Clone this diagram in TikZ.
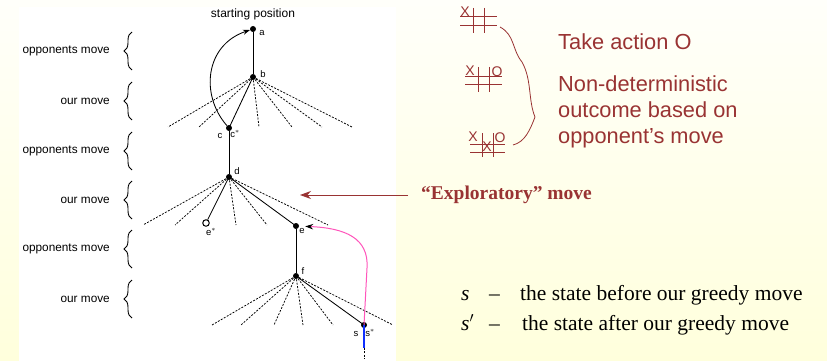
\documentclass[tikz,border=0pt]{standalone}
\usepackage{fontspec}
\setmainfont{Liberation Serif}
\newfontfamily\arialf{Liberation Sans}
\usetikzlibrary{decorations.pathreplacing,arrows.meta}
\definecolor{dred}{HTML}{993333}
\definecolor{pinkc}{HTML}{FF55BB}
\definecolor{bluec}{HTML}{1030FF}
\definecolor{creamtop}{HTML}{FFFFFA}
\definecolor{creambot}{HTML}{FFFFDC}
\begin{document}
\begin{tikzpicture}[x=1pt,y=-1pt,
 dot/.style={circle,fill=black,inner sep=0pt,minimum size=6pt},
 odot/.style={circle,draw=black,line width=1pt,inner sep=0pt,minimum size=6.5pt},
 br/.style={dash pattern=on 2pt off 1.4pt, line width=0.75pt},
 solidbr/.style={line width=0.85pt},
 lbl/.style={font=\arialf\fontsize{11.8}{12}\selectfont, anchor=east, inner sep=0pt},
 nl/.style={font=\arialf\fontsize{9.5}{10}\selectfont, inner sep=0pt},
 bracestyle/.style={decorate,decoration={brace,amplitude=8pt},line width=0.9pt},
 ttt/.style={dred, line width=0.8pt},
 tttchar/.style={dred,font=\arialf\fontsize{14}{14}\selectfont, inner sep=0pt},
 rtext/.style={dred,font=\arialf\fontsize{21.8}{26}\selectfont, anchor=base west, inner sep=0pt},
 btext/.style={font=\fontsize{21.5}{26}\selectfont, anchor=base west, inner sep=0pt}
]
\shade[top color=creamtop,bottom color=creambot] (0,0) rectangle (827,361);
\fill[white] (19,7) rectangle (396,361);
\useasboundingbox (0,0) rectangle (827,361);

% left labels and braces
\foreach \i/\y/\t in {1/51/opponents move,2/101/our move,3/151/opponents move,4/200/our move,5/249/opponents move,6/299/our move}{
  \node[lbl] (l\i) at (110,\y) {\t};
  \draw[bracestyle] (132,\y+19) -- (132,\y-19);
}

\node[font=\arialf\fontsize{12}{12}\selectfont, inner sep=0pt] (start) at (253,14) {starting position};

% tree nodes
\node[dot] (a) at (253,29) {};
\node[dot] (b) at (253,77) {};
\node[dot] (c) at (229,128) {};
\node[dot] (d) at (229,177) {};
\node[odot] (o) at (206,223) {};
\node[dot] (e) at (296,226) {};
\node[dot] (f) at (296,276) {};
\node[dot] (s) at (364,325) {};

\draw[solidbr] (a) -- (b);
\draw[solidbr] (b.center) -- (c.center);
\draw[solidbr] (c) -- (d);
\draw[solidbr] (d.center) -- (o);
\draw[solidbr] (d.center) -- (e.center);
\draw[solidbr] (e) -- (f);
\draw[solidbr] (f.center) -- (s.center);

\foreach \n/\x in {1/168,2/199,3/259,4/292,5/322,6/352}{
  \coordinate (b\n) at (\x,127);
  \draw[br] (b.center) -- (b\n);
}
\foreach \n/\x in {1/143,2/175,3/236,4/267,5/328}{
  \coordinate (d\n) at (\x,225);
  \draw[br] (d.center) -- (d\n);
}
\foreach \n/\x in {1/212,2/241,3/274,4/303,5/333,6/393}{
  \coordinate (f\n) at (\x,325);
  \draw[br] (f.center) -- (f\n);
}

% node labels
\node[nl] (la) at (262,33) {a};
\node[nl] (lb) at (263,74) {b};
\node[nl] (lc) at (220,136) {c};
\node[nl] (lcs) at (235,134) {c$^{*}$};
\node[nl] (ld) at (237,171) {d};
\node[nl] (les) at (211,232) {e$^{*}$};
\node[nl] (le) at (302,231) {e};
\node[nl] (lf) at (303,271) {f};
\node[nl] (ls) at (356,334) {s};
\node[nl] (lss) at (370,333) {s$^{*}$};

% curved arrows
\draw[line width=0.85pt, -{Stealth[length=7pt,width=5pt]}] (c) .. controls (200,95) and (205,45) .. (a);
\draw[pinkc, line width=1pt, shorten >=6pt, -{Stealth[black,length=8pt,width=5.5pt]}] (s.center) -- (367,268) .. controls (369,238) and (345,228) .. (e);

\coordinate (sb) at (364,348);
\coordinate (sbb) at (364,359);
\draw[bluec, line width=2.2pt] (s.center) -- (sb);
\draw[br] (sb) -- (sbb);

% exploratory move
\node[dred, font=\bfseries\fontsize{19.5}{22}\selectfont, anchor=west, inner sep=0pt] (expl) at (421,195) {“Exploratory” move};
\coordinate (ea) at (300,195);
\draw[dred, line width=1pt, -{Stealth[length=11pt,width=8pt]}] ([xshift=-13pt]expl.west) -- (ea);

% tic-tac-toe boards
\draw[ttt] (460,16)--(497,16) (460,25)--(497,25) (473,8)--(473,33) (484,8)--(484,33);
\node[tttchar] (x1) at (465,12) {X};
\draw[ttt] (465,76)--(502,76) (465,84)--(502,84) (478,67)--(478,92) (489,67)--(489,92);
\node[tttchar] (x2) at (470,71) {X};
\node[tttchar] (o2) at (497,72) {O};
\draw[ttt] (470,144)--(505,144) (470,152)--(505,152) (482,133)--(482,157) (493,133)--(493,157);
\node[tttchar] (x3) at (473,137) {X};
\node[tttchar] (x4) at (487,147) {X};
\node[tttchar] (o3) at (500,138) {O};
\draw[dred, line width=0.8pt] (500,27) .. controls (515,35) and (512,50) .. (522,62) .. controls (532,80) and (528,100) .. (535,117) .. controls (530,130) and (525,142) .. (513,145);

\node[rtext] (t1) at (558,50) {Take action O};
\node[rtext] (t2) at (558,92) {Non-deterministic};
\node[rtext] (t3) at (558,117) {outcome based on};
\node[rtext] (t4) at (558,143) {opponent’s move};

% legend
\node[btext] (s1) at (461,300) {\itshape s};
\node[btext] (d1) at (489,300) {–};
\node[btext] (e1) at (520,300) {the state before our greedy move};
\node[btext] (s2) at (461,330) {\itshape s$'$};
\node[btext] (d2) at (489,330) {–};
\node[btext] (e2) at (522,330) {the state after our greedy move};
\end{tikzpicture}
\end{document}
